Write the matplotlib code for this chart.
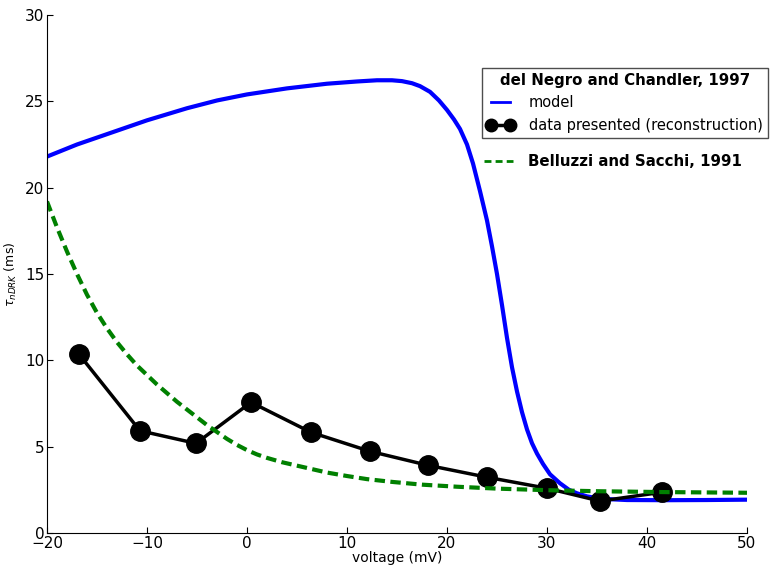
import matplotlib
matplotlib.use('Agg')
from matplotlib import pyplot as plt
from matplotlib.lines import Line2D

# del Negro and Chandler model curve
model_v = [-20, -17, -14, -10, -6, -3, 0, 4, 8, 11, 13, 14.5, 15.5, 16.5, 17.3, 18.3,
           19.2, 20, 20.7, 21.3, 22, 22.6, 23.3, 24, 24.5, 25, 25.5, 26, 26.5, 27, 27.5,
           28, 28.5, 29, 29.6, 30.3, 31.3, 32.2, 33, 34, 35, 36.5, 38, 42, 46, 50]
model_tau = [21.8, 22.5, 23.1, 23.9, 24.6, 25.05, 25.4, 25.75, 26.02, 26.15, 26.22, 26.22,
             26.17, 26.05, 25.88, 25.55, 25.05, 24.5, 23.95, 23.4, 22.5, 21.4, 19.8, 18.1,
             16.6, 15.0, 13.2, 11.3, 9.6, 8.2, 7.0, 6.0, 5.2, 4.6, 4.0, 3.4, 2.88, 2.5,
             2.3, 2.12, 2.02, 1.95, 1.91, 1.9, 1.91, 1.93]

# reconstructed data points
data_v = [-16.8, -10.7, -5.1, 0.4, 6.4, 12.3, 18.1, 24.0, 30.0, 35.3, 41.5]
data_tau = [10.35, 5.92, 5.19, 7.57, 5.83, 4.73, 3.92, 3.23, 2.59, 1.85, 2.36]

# Belluzzi and Sacchi curve
bs_v = [-20, -19, -18, -17, -16, -15, -14, -13, -12, -11, -10, -9, -8, -7, -6, -5, -4,
        -3, -2, -1, 0, 1, 2, 3.5, 5, 6.5, 8, 10, 12, 14.5, 17.5, 21, 25, 30, 35, 41.6, 50]
bs_tau = [19.2, 17.7, 16.3, 15.0, 13.8, 12.75, 11.85, 11.05, 10.35, 9.7, 9.15, 8.6, 8.1,
          7.6, 7.15, 6.7, 6.25, 5.85, 5.45, 5.1, 4.8, 4.55, 4.35, 4.1, 3.9, 3.7, 3.5, 3.3,
          3.12, 2.96, 2.8, 2.68, 2.57, 2.48, 2.42, 2.37, 2.33]

fig = plt.figure(figsize=(7.7, 5.67), dpi=100)
ax = fig.add_axes([47 / 770, 34 / 567, 700 / 770, 518 / 567])

ax.plot(model_v, model_tau, color='blue', lw=3)
ax.plot(data_v, data_tau, color='black', lw=2.5, marker='o', markersize=14)
ax.plot(bs_v, bs_tau, color='green', lw=3, ls='--', dashes=(2.5, 1.3))

ax.set_xlim(-20, 50)
ax.set_ylim(0, 30)
ax.set_xticks(range(-20, 51, 10))
ax.set_yticks(range(0, 31, 5))
ax.spines['top'].set_visible(False)
ax.spines['right'].set_visible(False)
ax.tick_params(direction='in', length=4, labelsize=11, pad=2, top=False, right=False)
ax.set_xlabel('voltage (mV)', fontsize=10, labelpad=0)
ax.set_ylabel(r'$\tau_{nDRK}$ (ms)', fontsize=9, labelpad=4)

# legend handles (drawn slightly thinner than the plotted lines, as in the original)
h_model = Line2D([], [], color='blue', lw=2)
h_data = Line2D([], [], color='black', lw=2.5, marker='o', markersize=9)
h_bs = Line2D([], [], color='green', lw=2, ls='--', dashes=(2.5, 1.5))

leg1 = ax.legend([h_model, h_data], ['model', 'data presented (reconstruction)'],
                 loc='upper right', bbox_to_anchor=(768 / 770, 1 - 68 / 567),
                 bbox_transform=fig.transFigure, borderaxespad=0, fontsize=10.5,
                 title='del Negro and Chandler, 1997',
                 title_fontproperties={'weight': 'bold', 'size': 10.8},
                 numpoints=2, fancybox=False, framealpha=1,
                 handlelength=1.9, handletextpad=1.0, borderpad=0.35)
leg1.get_frame().set_edgecolor('0.3')
ax.add_artist(leg1)

ax.legend([h_bs], ['Belluzzi and Sacchi, 1991'], loc='upper left',
          bbox_to_anchor=(478 / 770, 1 - 148 / 567), bbox_transform=fig.transFigure,
          borderaxespad=0, frameon=False, prop={'weight': 'bold', 'size': 10.8},
          handlelength=1.9, handletextpad=1.0)

fig.savefig('out.png', dpi=100)
